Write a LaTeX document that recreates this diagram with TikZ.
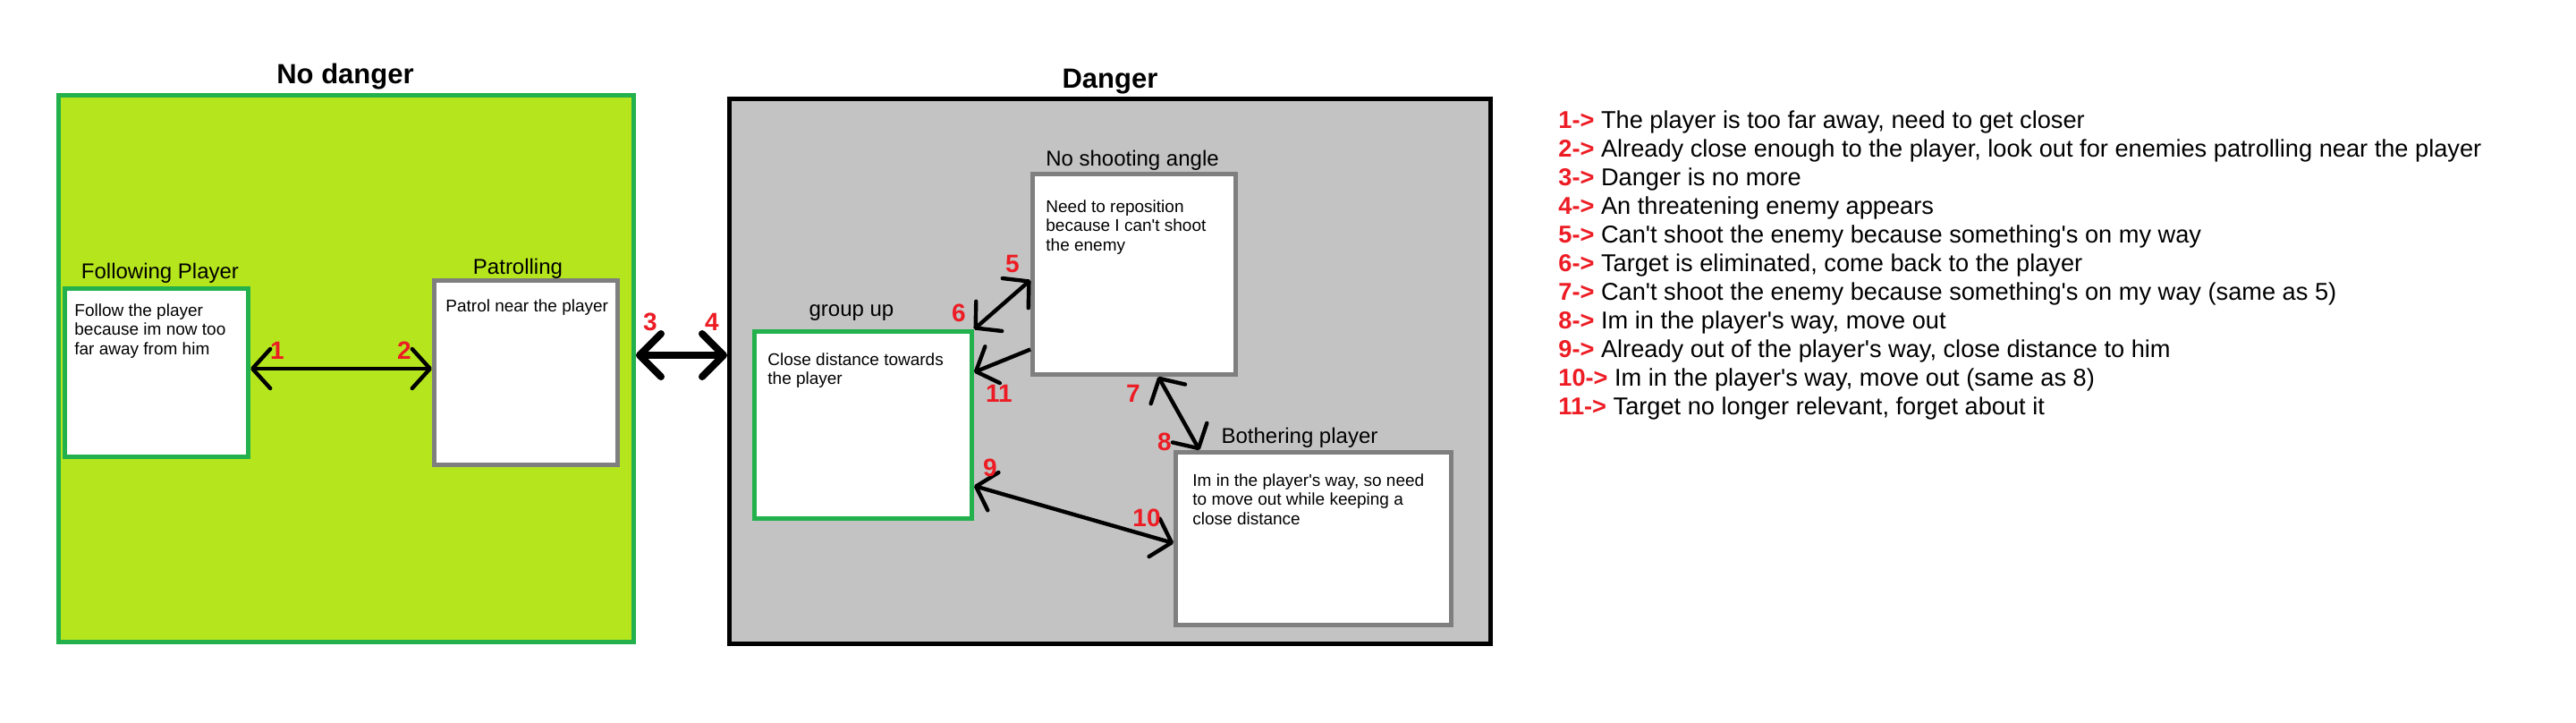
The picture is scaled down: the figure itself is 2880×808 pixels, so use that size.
\documentclass[tikz,border=0pt]{standalone}
\usepackage{fontspec}
\setmainfont{Liberation Sans}
\usetikzlibrary{
  arrows.meta,
  positioning
}
\definecolor{paintgreen}{HTML}{22B14C}
\definecolor{paintlime}{HTML}{B5E61D}
\definecolor{paintgray}{HTML}{7F7F7F}
\definecolor{paintsilver}{HTML}{C3C3C3}
\definecolor{paintred}{HTML}{ED1C24}
\newcommand{\trnum}[1]{\textcolor{paintred}{\bfseries #1->}}
\newcommand{\q}{\textquotesingle}
\tikzset{
  % styles
  area/.style={
    line width=2.5pt,
    inner sep=0pt,
  },
  no danger area/.style={
    area,
    draw=paintgreen,
    fill=paintlime,
  },
  danger area/.style={
    area,
    draw=black,
    fill=paintsilver,
  },
  state/.style={
    draw=paintgray,
    fill=white,
    line width=2.5pt,
    inner sep=0pt,
  },
  active state/.style={
    state,
    draw=paintgreen,
  },
  title/.style={
    anchor=base,
    font=\bfseries\fontsize{15.5}{18}\selectfont,
  },
  state name/.style={
    anchor=base,
    font=\fontsize{12}{14}\selectfont,
  },
  state text/.style={
    align=left,
    inner sep=0pt,
    font=\fontsize{9.5}{10.75}\selectfont,
  },
  tnum/.style={
    text=paintred,
    font=\bfseries\fontsize{14}{16}\selectfont,
  },
  link/.style={
    line width=2.2pt,
    {Straight Barb[round,length=10pt,width=22pt]}-{Straight Barb[round,length=10pt,width=22pt]},
  },
  one way/.style={
    line width=2.2pt,
    -{Straight Barb[round,length=10pt,width=22pt]},
  },
  big link/.style={
    line width=4pt,
    {Straight Barb[round,length=12pt,width=24pt]}-{Straight Barb[round,length=12pt,width=24pt]},
  },
  legend/.style={
    align=left,
    inner sep=0pt,
    font=\fontsize{13.6}{16}\selectfont,
  },
}

\begin{document}
\begin{tikzpicture}[x=0.5pt, y=-0.5pt]
  \useasboundingbox (0,0) rectangle (2880,808);

  % areas
  \node [no danger area, minimum width=321.5pt, minimum height=305.5pt] (nodanger) at (387,412) {};
  \node [danger area, minimum width=425.5pt, minimum height=304.5pt]    (danger)   at (1241,415) {};
  \node [title] (nodangertitle) at (386,94) {No danger};
  \node [title] (dangertitle)   at (1241,98) {Danger};

  % states
  \node [active state, minimum width=102.5pt, minimum height=94pt]  (follow) at (175,416.5) {};
  \node [state,        minimum width=102.5pt, minimum height=103pt] (patrol) at (588,416.5) {};
  \node [active state, minimum width=121.5pt, minimum height=104.5pt] (group) at (965,475) {};
  \node [state,        minimum width=113.5pt, minimum height=112pt] (noangle) at (1268,306.5) {};
  \node [state,        minimum width=154pt,   minimum height=96.5pt] (bother) at (1468.5,602) {};

  % state names
  \node [state name] (followname)  at (179,311)  {Following Player};
  \node [state name] (patrolname)  at (579,306)  {Patrolling};
  \node [state name] (groupname)   at (952,353)  {group up};
  \node [state name] (noanglename) at (1266,185) {No shooting angle};
  \node [state name] (bothername)  at (1453,495) {Bothering player};

  % state texts
  \node [state text, below right=9.5pt and 6.5pt of follow.north west]  (followtext)
    {Follow the player\\because im now too\\far away from him};
  \node [state text, below right=11.5pt and 7.5pt of patrol.north west] (patroltext)
    {Patrol near the player};
  \node [state text, below right=13pt and 8.5pt of group.north west]    (grouptext)
    {Close distance towards\\the player};
  \node [state text, below right=15.5pt and 8.5pt of noangle.north west] (noangletext)
    {Need to reposition\\because I can\q t shoot\\the enemy};
  \node [state text, below right=13pt and 10.5pt of bother.north west]  (bothertext)
    {Im in the player\q s way, so need\\to move out while keeping a\\close distance};

  % transitions
  \draw [link] ([yshift=2.25pt]follow.east) -- ([yshift=2.25pt]patrol.west);
  \draw [big link] ([yshift=7.5pt]nodanger.east) coordinate (swap) -- (swap -| danger.west);
  \draw [link] (group.north east) -- ([yshift=-3.25pt]noangle.west);
  \draw [one way] ([yshift=-42pt]noangle.west) -- ([yshift=29.5pt]group.east);
  \draw [link] ([xshift=13.5pt]noangle.south) -- ([xshift=14.5pt]bother.north west);
  \draw [link] ([yshift=-34pt]group.east) -- ([yshift=-2.5pt]bother.west);

  % transition numbers
  \node [tnum] (t1)  at (310,392)  {1};
  \node [tnum] (t2)  at (452,392)  {2};
  \node [tnum] (t3)  at (727,360)  {3};
  \node [tnum] (t4)  at (796,360)  {4};
  \node [tnum] (t5)  at (1132,295) {5};
  \node [tnum] (t6)  at (1072,350) {6};
  \node [tnum] (t7)  at (1267,440) {7};
  \node [tnum] (t8)  at (1302,494) {8};
  \node [tnum] (t9)  at (1107,523) {9};
  \node [tnum] (t10) at (1282,579) {10};
  \node [tnum] (t11) at (1117,440) {11};

  % legend
  \node [legend, anchor=north west] (legend) at (1742,123) {%
    \trnum{1} The player is too far away, need to get closer\\
    \trnum{2} Already close enough to the player, look out for enemies patrolling near the player\\
    \trnum{3} Danger is no more\\
    \trnum{4} An threatening enemy appears\\
    \trnum{5} Can\q t shoot the enemy because something\q s on my way\\
    \trnum{6} Target is eliminated, come back to the player\\
    \trnum{7} Can\q t shoot the enemy because something\q s on my way (same as 5)\\
    \trnum{8} Im in the player\q s way, move out\\
    \trnum{9} Already out of the player\q s way, close distance to him\\
    \trnum{10} Im in the player\q s way, move out (same as 8)\\
    \trnum{11} Target no longer relevant, forget about it};
\end{tikzpicture}
\end{document}
